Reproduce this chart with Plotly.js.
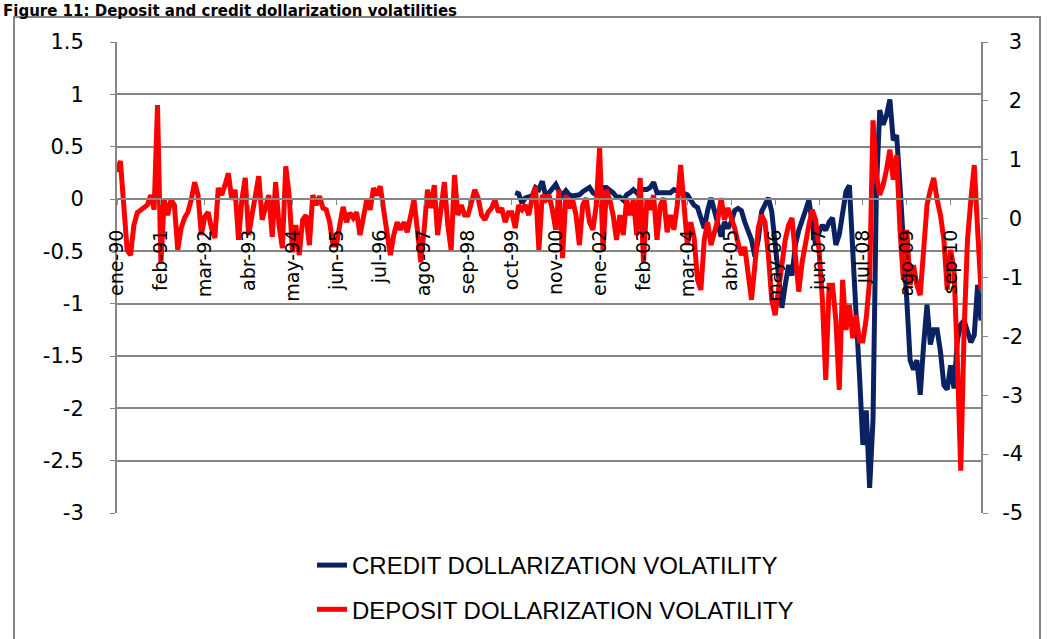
<!DOCTYPE html>
<html>
<head>
<meta charset="utf-8">
<script src="https://cdn.plot.ly/plotly-3.0.1.min.js"></script>
<style>html,body{margin:0;padding:0;background:#fff;}#chart{width:1053px;height:639px;}</style>
</head>
<body>
<div id="chart"></div>
<script>
// Month labels (Spanish), Jan 1990 - Jun 2011, dic-01 absent in source
const monthNames = ['ene','feb','mar','abr','may','jun','jul','ago','sep','oct','nov','dic'];
const categories = [];
for (let y = 1990; y <= 2011; y++) {
  for (let m = 0; m < 12; m++) {
    const lab = monthNames[m] + '-' + String(y % 100).padStart(2, '0');
    if (lab === 'dic-01') continue;
    categories.push(lab);
    if (lab === 'jun-11') break;
  }
}

const tickLabels = ['ene-90','feb-91','mar-92','abr-93','may-94','jun-95','jul-96','ago-97','sep-98','oct-99',
  'nov-00','ene-02','feb-03','mar-04','abr-05','may-06','jun-07','jul-08','ago-09','sep-10'];

// Deposit dollarization volatility (secondary / right axis)
const depositVol = [
  0.79, 0.98, 0.23, -0.53, -0.62, -0.11, 0.10, 0.15, 0.20, 0.23, 0.40, 0.15, 1.93,
  -0.76, 0.32, 0.06, 0.32, 0.23, -0.53, -0.16, 0.01, 0.11, 0.32, 0.62, 0.40, -0.28,
  0.03, 0.11, -0.16, -0.33, 0.52, 0.40, 0.57, 0.77, 0.32, 0.49, -0.36, 0.32, 0.69,
  -0.28, 0.06, 0.40, 0.72, -0.02, 0.23, 0.40, -0.31, 0.62, -0.11, -0.50, 0.89, 0.40,
  -0.57, -0.11, -0.62, -0.02, 0.06, -0.45, 0.40, 0.23, 0.38, 0.18, 0.15, -0.06, -0.45,
  -0.45, -0.11, 0.20, -0.06, 0.10, 0.01, 0.11, -0.28, 0.06, 0.32, 0.15, 0.52, 0.40,
  0.55, 0.15, -0.19, -0.62, -0.28, -0.06, -0.19, -0.06, -0.23, 0.06, 0.32, -0.19, -0.74,
  -0.19, 0.49, 0.18, 0.57, -0.28, 0.23, 0.62, -0.11, -0.53, 0.74, 0.06, 0.23, 0.06,
  0.06, 0.28, 0.49, 0.35, 0.06, -0.02, 0.11, 0.18, 0.32, 0.11, 0.18, -0.06, 0.10,
  0.10, -0.16, 0.23, 0.15, 0.23, 0.06, 0.35, 0.54, -0.53, 0.40, 0.32, 0.40, 0.15,
  -0.19, 0.49, -0.67, 0.40, 0.18, 0.32, 0.06, -0.45, 0.23, 0.35, -0.06, -0.19, 0.23,
  1.20, -0.53, 0.49, 0.32, 0.06, -0.36, 0.06, -0.28, 0.32, 0.06, 0.32, -0.28, 0.69,
  -0.74, 0.32, 0.15, 0.40, -0.36, 0.23, 0.35, -0.23, 0.06, -0.19, 0.23, 0.91, 0.32,
  -0.45, -0.06, -0.33, -1.04, -1.21, -0.36, -0.06, -0.45, -0.19, -0.02, 0.35, -0.02, 0.18,
  0.03, -0.16, -0.41, -0.62, -0.48, -0.96, -1.38, -0.79, -0.16, 0.06, -0.06, -0.62, -1.38,
  -1.64, -1.21, -0.67, -0.36, -0.11, 0.01, -0.62, -1.24, -0.74, -0.36, -0.11, 0.15, -0.02,
  -0.53, -1.38, -2.74, -1.13, -1.13, -1.72, -2.91, -1.04, -1.89, -1.47, -2.03, -1.64, -2.08,
  -2.08, -1.69, -1.04, 1.67, 0.74, 0.40, 0.57, 0.83, 1.17, 0.66, 1.08, -0.19, -1.04,
  -0.19, -1.13, -0.79, -1.13, -1.30, -0.53, 0.23, 0.49, 0.69, 0.32, 0.06, -0.36, -1.21,
  -0.53, -0.87, -2.41, -4.28, -1.89, -0.36, 0.32, 0.91, -0.19, -1.21
];

// Credit dollarization volatility (primary / left axis), starts at creditStart
const creditStart = 'nov-99';
const creditVol = [
  0.06, 0.05, -0.04, 0.01, 0.02, 0.03, 0.11, 0.09, 0.17, 0.03, 0.06, 0.11,
  0.14, 0.07, 0.04, 0.08, 0.04, 0.03, 0.03, 0.04, 0.07, 0.09, 0.11, 0.06, 0.04,
  0.06, 0.11, 0.11, 0.09, 0.06, 0.02, 0.02, -0.01, 0.04, 0.06, 0.09, 0.06, 0.09,
  0.09, 0.09, 0.11, 0.16, 0.06, 0.06, 0.07, 0.07, 0.06, 0.09, 0.08, 0.06, 0.05,
  0.04, -0.01, -0.06, -0.08, -0.18, -0.28, -0.11, 0.01, -0.11, -0.22, -0.36, -0.22, -0.28,
  -0.22, -0.11, -0.09, -0.11, -0.22, -0.32, -0.39, -0.55, -0.39, -0.12, -0.04, 0.01, -0.12,
  -0.44, -0.77, -1.04, -0.82, -0.63, -0.73, -0.44, -0.30, -0.22, -0.11, -0.01, -0.25, -0.44,
  -0.32, -0.25, -0.30, -0.22, -0.18, -0.44, -0.34, -0.15, 0.07, 0.13, -0.58, -1.11, -1.68,
  -2.35, -2.02, -2.76, -2.11, 0.09, 0.85, 0.71, 0.80, 0.95, 0.56, 0.61, 0.13, -0.34,
  -0.96, -1.54, -1.63, -1.54, -1.87, -1.39, -1.01, -1.39, -1.25, -1.25, -1.46, -1.78, -1.82,
  -1.59, -1.81, -1.35, -1.20, -1.16, -1.25, -1.37, -1.30, -0.82, -1.16
];

const leftTicks = [1.5, 1, 0.5, 0, -0.5, -1, -1.5, -2, -2.5, -3];
const rightTicks = [3, 2, 1, 0, -1, -2, -3, -4, -5];
const seriesNames = ['CREDIT DOLLARIZATION VOLATILITY', 'DEPOSIT DOLLARIZATION VOLATILITY'];
const titleText = 'Figure 11: Deposit and credit dollarization volatilities';

const creditX = categories.slice(categories.indexOf(creditStart));
const hy = v => String(v).replace('\u2212', '-');
// right-axis labels are right-aligned in the source: pad non-negative ones
const rightText = v => (v < 0 ? '' : '\u2008') + hy(v);

const grey = '#868686';
const traces = [
  {
    x: creditX, y: creditVol, type: 'scatter', mode: 'lines', name: seriesNames[0],
    line: {color: '#0b2262', width: 5}, xaxis: 'x', yaxis: 'y', legendgroup: 'a'
  },
  {
    x: categories, y: depositVol, type: 'scatter', mode: 'lines', name: seriesNames[1],
    line: {color: '#ff0000', width: 5}, xaxis: 'x', yaxis: 'y2', legendgroup: 'b'
  }
];

const PL = 117, PR = 981, PT = 42, PB = 513;
const px2x = p => (p - PL) / (PR - PL);
const px2y = p => (PB - p) / (PB - PT);

const layout = {
  width: 1053, height: 639,
  margin: {l: PL, r: 1053 - PR, t: PT, b: 639 - PB, pad: 0, autoexpand: false},
  paper_bgcolor: '#ffffff', plot_bgcolor: '#ffffff',
  font: {family: 'DejaVu Sans, sans-serif', color: '#000000'},
  showlegend: true,
  legend: {
    orientation: 'v', x: px2x(312), xanchor: 'left', y: px2y(543), yanchor: 'top',
    font: {family: 'Liberation Sans, Arial, sans-serif', size: 24, color: '#000'},
    traceorder: 'grouped', tracegroupgap: 10, bgcolor: 'rgba(0,0,0,0)'
  },
  xaxis: {
    type: 'category', categoryorder: 'array', categoryarray: categories,
    range: [0, categories.length - 1],
    anchor: 'free', position: 3 / 4.5,
    showgrid: false, zeroline: false,
    showline: true, linecolor: grey, linewidth: 2,
    ticks: 'outside', ticklen: 5, tickcolor: grey, tickwidth: 1,
    tickmode: 'array', tickvals: tickLabels, ticktext: tickLabels,
    tickangle: -90, ticklabelstandoff: 17,
    tickfont: {family: 'DejaVu Sans, sans-serif', size: 19, color: '#000'}
  },
  yaxis: {
    range: [-3, 1.5], tickmode: 'array', tickvals: leftTicks, ticktext: leftTicks.map(hy),
    showgrid: true, gridcolor: grey, gridwidth: 2, zeroline: false,
    showline: true, linecolor: grey, linewidth: 2,
    ticks: 'outside', ticklen: 5, tickcolor: grey,
    ticklabelstandoff: 22,
    tickfont: {family: 'DejaVu Sans, sans-serif', size: 21, color: '#000'}
  },
  yaxis2: {
    range: [-5, 3], overlaying: 'y', side: 'right', anchor: 'x',
    tickmode: 'array', tickvals: rightTicks, ticktext: rightTicks.map(rightText),
    showgrid: false, zeroline: false,
    showline: true, linecolor: grey, linewidth: 2,
    ticks: 'outside', ticklen: 5, tickcolor: grey,
    ticklabelstandoff: 10,
    tickfont: {family: 'DejaVu Sans, sans-serif', size: 21, color: '#000'}
  },
  shapes: [
    {type: 'rect', xref: 'paper', yref: 'paper',
     x0: px2x(14), x1: px2x(1040), y0: px2y(700), y1: px2y(17),
     line: {color: grey, width: 2}, fillcolor: 'rgba(0,0,0,0)', layer: 'below'}
  ],
  annotations: [
    {text: '<b>' + titleText + '</b>', xref: 'paper', yref: 'paper',
     x: px2x(1), xanchor: 'left', y: px2y(11), yanchor: 'middle', showarrow: false,
     font: {family: 'DejaVu Sans, sans-serif', size: 15, color: '#000'}}
  ]
};

Plotly.newPlot('chart', traces, layout, {displayModeBar: false, staticPlot: true});
</script>
</body>
</html>
